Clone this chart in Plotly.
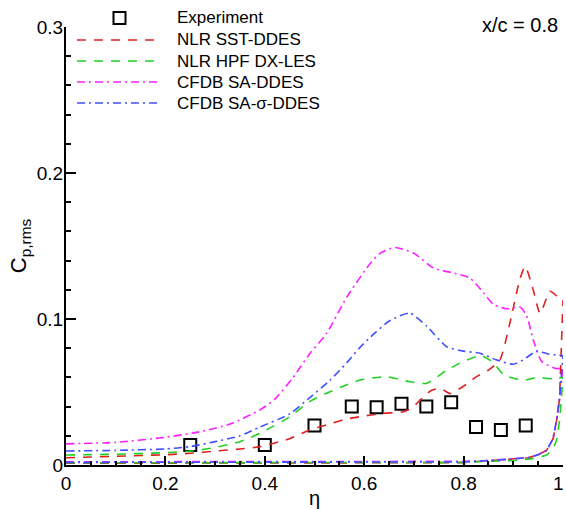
import plotly.graph_objects as go

# ---------------- data ----------------
exp_eta = [0.25, 0.40, 0.50, 0.575, 0.625, 0.675, 0.725, 0.775, 0.825, 0.875, 0.925]
exp_cp = [0.0137, 0.0137, 0.027, 0.040, 0.0395, 0.042, 0.040, 0.043, 0.026, 0.024, 0.027]

sst_eta = [0.0, 0.05, 0.1, 0.15, 0.2, 0.25, 0.3, 0.35, 0.39, 0.45, 0.49, 0.53, 0.558, 0.59, 0.638,
           0.679, 0.699, 0.72, 0.735, 0.753, 0.773, 0.8, 0.826, 0.85, 0.873, 0.893, 0.913, 0.924,
           0.94, 0.954, 0.974, 0.99, 1.0]
sst_cp = [0.005, 0.0055, 0.006, 0.0065, 0.007, 0.008, 0.0095, 0.011, 0.0126, 0.018, 0.024, 0.028,
          0.031, 0.033, 0.0354, 0.0365, 0.040, 0.047, 0.051, 0.0525, 0.049, 0.054, 0.0605, 0.065,
          0.072, 0.097, 0.127, 0.136, 0.120, 0.104, 0.119, 0.115, 0.113]

hpf_eta = [0.0, 0.05, 0.1, 0.15, 0.2, 0.25, 0.3, 0.35, 0.39, 0.45, 0.49, 0.53, 0.558, 0.59, 0.645,
           0.692, 0.726, 0.766, 0.8, 0.835, 0.86, 0.88, 0.92, 0.947, 0.98, 1.0]
hpf_cp = [0.0068, 0.0071, 0.0074, 0.0078, 0.0085, 0.0095, 0.012, 0.016, 0.0217, 0.033, 0.0434,
          0.050, 0.054, 0.058, 0.0605, 0.057, 0.056, 0.065, 0.071, 0.075, 0.070, 0.062, 0.058,
          0.060, 0.059, 0.060]

sa_eta = [0.0, 0.1, 0.2, 0.27, 0.33, 0.39, 0.42, 0.457, 0.49, 0.524, 0.565, 0.612, 0.632, 0.662,
          0.7, 0.739, 0.786, 0.813, 0.84, 0.86, 0.887, 0.914, 0.927, 0.94, 0.957, 0.987, 1.0]
sa_cp = [0.0145, 0.0155, 0.019, 0.0228, 0.028, 0.0377, 0.045, 0.060, 0.076, 0.090, 0.115, 0.138,
         0.145, 0.149, 0.145, 0.135, 0.131, 0.128, 0.118, 0.110, 0.107, 0.108, 0.102, 0.086,
         0.071, 0.066, 0.067]

sas_eta = [0.0, 0.1, 0.2, 0.25, 0.3, 0.35, 0.39, 0.45, 0.49, 0.531, 0.565, 0.59, 0.62, 0.652, 0.692,
           0.726, 0.766, 0.8, 0.833, 0.866, 0.9, 0.92, 0.947, 0.97, 1.0]
sas_cp = [0.0096, 0.010, 0.011, 0.0126, 0.016, 0.020, 0.026, 0.035, 0.046, 0.058, 0.070, 0.080,
          0.090, 0.099, 0.104, 0.095, 0.081, 0.078, 0.0765, 0.072, 0.069, 0.072, 0.078, 0.076,
          0.075]

# lower-surface branches (near zero, rising at the tip)
low_eta = [0.0, 0.2, 0.4, 0.6, 0.8, 0.85, 0.9, 0.93, 0.95, 0.967, 0.98, 0.987, 0.993, 1.0]
sst_low = [0.0012, 0.0012, 0.0013, 0.0014, 0.0016, 0.003, 0.004, 0.005, 0.007, 0.010, 0.018,
           0.030, 0.045, 0.113]
hpf_low = [0.0015, 0.0015, 0.0015, 0.0016, 0.0018, 0.0025, 0.003, 0.004, 0.005, 0.0068, 0.011,
           0.017, 0.030, 0.060]
sa_low = [0.0022, 0.0022, 0.0022, 0.0023, 0.0025, 0.003, 0.004, 0.005, 0.007, 0.010, 0.018,
          0.030, 0.045, 0.067]
sas_low = [0.0018, 0.0018, 0.0018, 0.0019, 0.0021, 0.003, 0.004, 0.005, 0.007, 0.010, 0.018,
           0.031, 0.046, 0.075]

series_names = ["NLR SST-DDES", "NLR HPF DX-LES", "CFDB SA-DDES", "CFDB SA-\u03c3-DDES"]
exp_name = "Experiment"

x_ticks = [0, 0.2, 0.4, 0.6, 0.8, 1.0]
x_labels = ["0", "0.2", "0.4", "0.6", "0.8", ""]   # last label drawn as annotation below
x_last_label = "1"
y_ticks = [0, 0.1, 0.2, 0.3]
y_labels = ["0", "0.1", "0.2", "0.3"]

# ---------------- figure ----------------
FONT = "Liberation Sans, Arial, Helvetica, sans-serif"
RED, GREEN, MAGENTA, BLUE = "#e02020", "#20d020", "#ff20ff", "#4050ff"
DASH = "9px,8px"
DASHDOT = "8px,4px,2px,4px"

W, H = 566, 509
ML, MR, MT, MB = 66, 3, 27, 44
PW, PH = W - ML - MR, H - MT - MB


def px_x(p):
    return (p - ML) / PW


def px_y(p):
    return (H - MB - p) / PH


fig = go.Figure()

fig.add_trace(go.Scatter(x=exp_eta, y=exp_cp, mode="markers", name=exp_name,
                         marker=dict(symbol="square-open", size=12, color="black",
                                     line=dict(width=2, color="black"))))

series = [
    (series_names[0], sst_eta, sst_cp, sst_low, RED, DASH),
    (series_names[1], hpf_eta, hpf_cp, hpf_low, GREEN, DASH),
    (series_names[2], sa_eta, sa_cp, sa_low, MAGENTA, DASHDOT),
    (series_names[3], sas_eta, sas_cp, sas_low, BLUE, DASHDOT),
]
for name, ex, ey, ly, col, dash in series:
    fig.add_trace(go.Scatter(x=ex, y=ey, mode="lines", name=name, legendgroup=name,
                             line=dict(color=col, width=1.6, dash=dash, shape="spline",
                                       smoothing=0.6)))
    fig.add_trace(go.Scatter(x=low_eta, y=ly, mode="lines", name=name, legendgroup=name,
                             showlegend=False,
                             line=dict(color=col, width=1.6, dash=dash)))

# ----- legend drawn in the Tecplot style (long line samples) -----
shapes = []
annotations = []
row_y = [18, 40, 61, 82, 103]
text_x = 175
# experiment symbol
cx, cy, hs = 119.5, row_y[0], 6
shapes.append(dict(type="rect", xref="paper", yref="paper",
                   x0=px_x(cx - hs), x1=px_x(cx + hs), y0=px_y(cy + hs), y1=px_y(cy - hs),
                   line=dict(color="black", width=2)))
annotations.append(dict(text=exp_name, xref="paper", yref="paper", x=px_x(text_x),
                        y=px_y(row_y[0]), xanchor="left", yanchor="middle", showarrow=False,
                        font=dict(size=17, family=FONT)))
for i, (name, _, _, _, col, dash) in enumerate(series):
    ry = row_y[i + 1]
    shapes.append(dict(type="line", xref="paper", yref="paper",
                       x0=px_x(77), x1=px_x(160), y0=px_y(ry), y1=px_y(ry),
                       line=dict(color=col, width=1.6, dash=dash)))
    annotations.append(dict(text=name, xref="paper", yref="paper", x=px_x(text_x),
                            y=px_y(ry), xanchor="left", yanchor="middle", showarrow=False,
                            font=dict(size=17, family=FONT)))

annotations.append(dict(text="x/c = 0.8", xref="paper", yref="paper", x=px_x(560),
                        y=px_y(25), xanchor="right", yanchor="middle", showarrow=False,
                        font=dict(size=20, family=FONT)))

# last x tick label, nudged left so it stays inside the page (as in the reference)
annotations.append(dict(text=x_last_label, xref="x", yref="paper", x=x_ticks[-1], y=0,
                        xanchor="right", yanchor="top", xshift=2, yshift=-7,
                        showarrow=False, borderpad=0, font=dict(size=19, family=FONT)))

fig.update_layout(
    width=W, height=H,
    margin=dict(l=ML, r=MR, t=MT, b=MB, autoexpand=False),
    paper_bgcolor="white", plot_bgcolor="white",
    font=dict(family=FONT, size=19, color="black"),
    showlegend=False,
    xaxis=dict(range=[0, 1], tickvals=x_ticks, ticktext=x_labels, ticks="inside",
               ticklen=9, tickwidth=1.5, tickcolor="black", ticklabeloverflow="allow",
               automargin=False,
               showline=True, linecolor="black", linewidth=2, mirror=False,
               showgrid=False, zeroline=False,
               minor=dict(dtick=0.05, ticks="inside", ticklen=4, tickcolor="black"),
               title=dict(text="\u03b7", font=dict(size=20), standoff=2)),
    yaxis=dict(range=[0, 0.3], tickvals=y_ticks, ticktext=y_labels, ticks="inside",
               ticklen=10, tickwidth=1.5, tickcolor="black", ticklabelstandoff=-3,
               automargin=False,
               showline=True, linecolor="black", linewidth=2, mirror=False,
               showgrid=False, zeroline=False,
               minor=dict(dtick=0.02, ticks="inside", ticklen=5, tickcolor="black"),
               title=dict(text="C<sub>p,rms</sub>", font=dict(size=22), standoff=4)),
    shapes=shapes,
    annotations=annotations,
)

POST = (
    "var h=document.documentElement, b=document.body;"
    "h.style.margin='0'; h.style.padding='0'; h.style.overflow='hidden';"
    "b.style.margin='0'; b.style.padding='0'; b.style.overflow='hidden';"
)

fig.write_html("out.html", config={"displayModeBar": False}, post_script=POST)
